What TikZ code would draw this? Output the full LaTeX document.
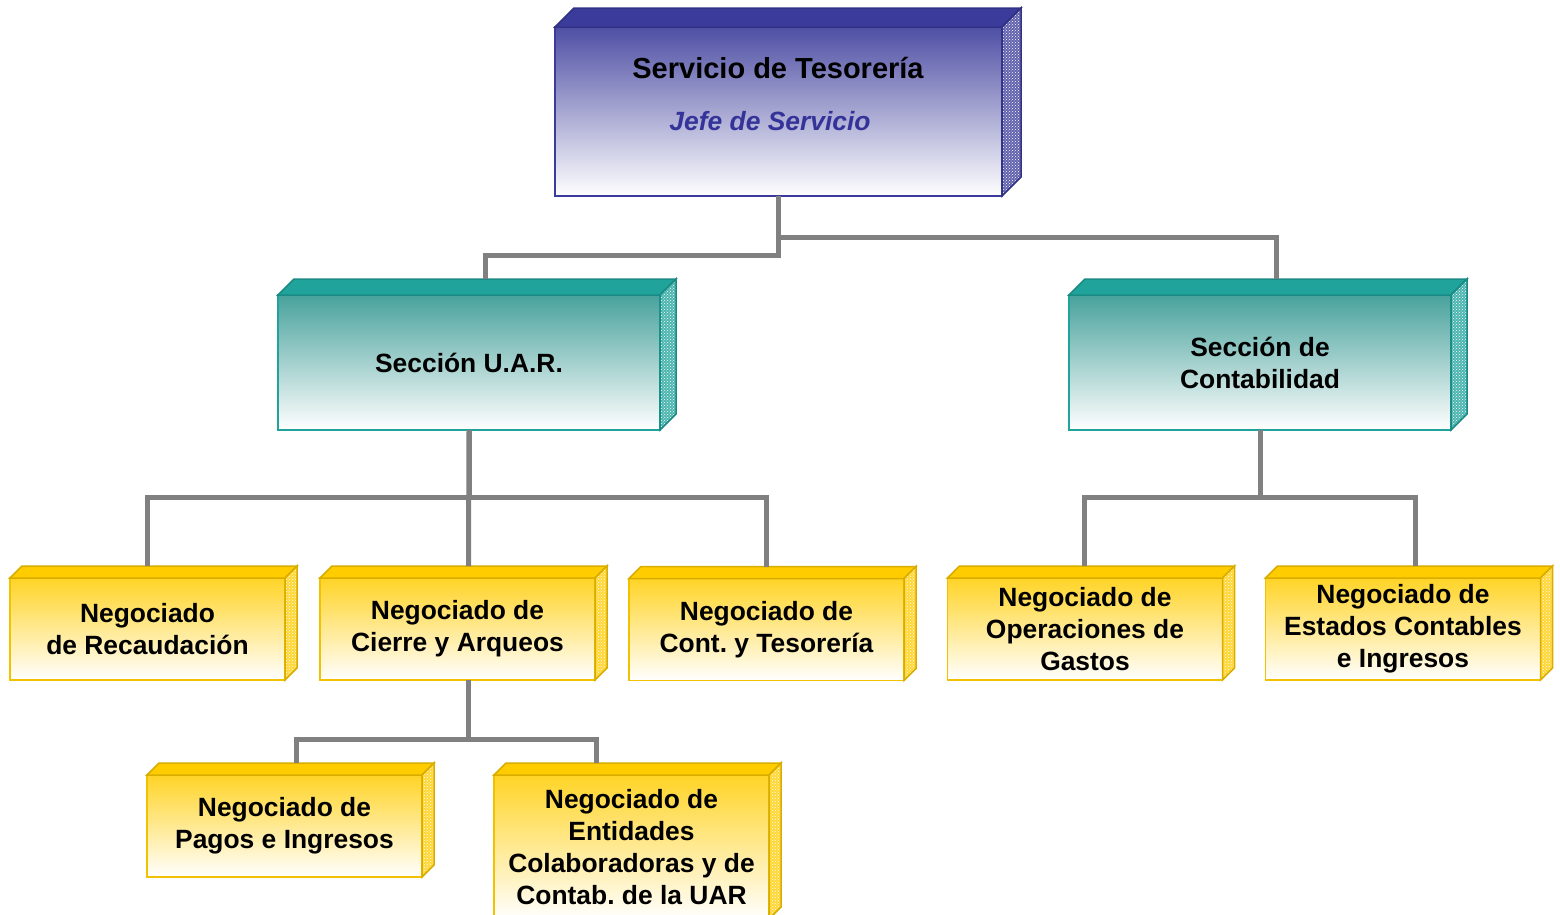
\documentclass[tikz,border=0pt]{standalone}
\usepackage{fontspec}
\setmainfont{Liberation Sans}
\usetikzlibrary{patterns}
\definecolor{tesblue}{HTML}{3B3B9B}
\definecolor{secteal}{HTML}{1FA39B}
\definecolor{neggold}{HTML}{FFCC00}
\definecolor{linkgray}{HTML}{808080}
\definecolor{jefeblue}{HTML}{333399}
% top and right faces of a box: node, depth, colour
\newcommand{\cubefaces}[3]{%
  \filldraw[fill=#3, draw=#3!85!black, line width=1.5]
    (#1.north west) -- ++(#2,-#2) -- ([shift={(#2,-#2)}]#1.north east) -- (#1.north east) -- cycle;
  \fill[#3!80!white]
    (#1.north east) -- ++(#2,-#2) -- ([shift={(#2,-#2)}]#1.south east) -- (#1.south east) -- cycle;
  \filldraw[pattern=crosshatch dots, pattern color=white, draw=#3!85!black, line width=1.5]
    (#1.north east) -- ++(#2,-#2) -- ([shift={(#2,-#2)}]#1.south east) -- (#1.south east) -- cycle;
}
\tikzset{
  orgbox/.style={line width=1.5, outer sep=0, inner sep=2, align=center,
    font=\fontsize{26.4}{32}\selectfont\bfseries, bottom color=white},
  tesbox/.style={orgbox, draw=tesblue, top color=tesblue!90, minimum width=447, minimum height=169},
  secbox/.style={orgbox, draw=secteal, top color=secteal!85!black!80, minimum width=382, minimum height=135},
  negbox/.style={orgbox, draw=neggold!95!black, top color=neggold!85, minimum width=275, minimum height=102},
  link/.style={draw=linkgray, line width=5},
}
\frenchspacing

\begin{document}
\begin{tikzpicture}[x=1pt, y=-1pt]
      \useasboundingbox (0,0) rectangle (1560,914);

      \node[tesbox] (tes) at (778.5,111.5) {};
      \node[font=\fontsize{29}{34}\selectfont\bfseries] (title) at (778,68) {Servicio de Tesorería};
      \node[font=\fontsize{26.4}{32}\selectfont\bfseries\itshape, text=jefeblue] (jefe) at (770,121) {Jefe de Servicio};
      \cubefaces{tes}{19}{tesblue}

      \node[secbox] (uar) at (469,362.5) {Sección U.A.R.};
      \node[secbox] (cont) at (1260,362.5) {Sección de\\Contabilidad};
      \cubefaces{uar}{16}{secteal}
      \cubefaces{cont}{16}{secteal}

      \node[negbox] (rec) at (147.5,629) {Negociado\\de Recaudación};
      \node[negbox] (cie) at (457.5,629) {Negociado de\\Cierre y Arqueos};
      \node[negbox] (ctes) at (766.5,629.5) {Negociado de\\Cont. y Tesorería};
      \node[negbox] (ope) at (1085,629) {Negociado de\\Operaciones de\\Gastos};
      \node[negbox] (est) at (1403,629) {Negociado de\\Estados Contables\\e Ingresos};
      \node[negbox] (pag) at (284.5,826) {Negociado de\\Pagos e Ingresos};
      \node[negbox, minimum height=144] (ent) at (631.5,847) {Negociado de\\Entidades\\Colaboradoras y de\\Contab. de la UAR};
      \foreach \n in {rec,cie,ctes,ope,est,pag,ent}
        \cubefaces{\n}{12}{neggold};

      % connectors
      \draw[link] (tes.south) -- ++(0,59) -| ([xshift=16,yshift=16]uar.north);
      \draw[link] (tes.south) -- ++(0,41) -| ([xshift=16,yshift=16]cont.north);

      \draw[link] (uar.south) -- ++(0,67) -| ([yshift=12]rec.north);
      \draw[link] (uar.south) -- ++(0,67) -| ([yshift=12]ctes.north);
      \draw[link] (uar.south) -- ([xshift=11,yshift=12]cie.north);

      \draw[link] (cont.south) -- ++(0,67) -| ([xshift=-1,yshift=12]ope.north);
      \draw[link] (cont.south) -- ++(0,67) -| ([xshift=12,yshift=12]est.north);

      \draw[link] ([xshift=11]cie.south) -- ++(0,59) -| ([xshift=12,yshift=12]pag.north);
      \draw[link] ([xshift=11]cie.south) -- ++(0,59) -| ([xshift=-35,yshift=12]ent.north);
    \end{tikzpicture}
\end{document}
